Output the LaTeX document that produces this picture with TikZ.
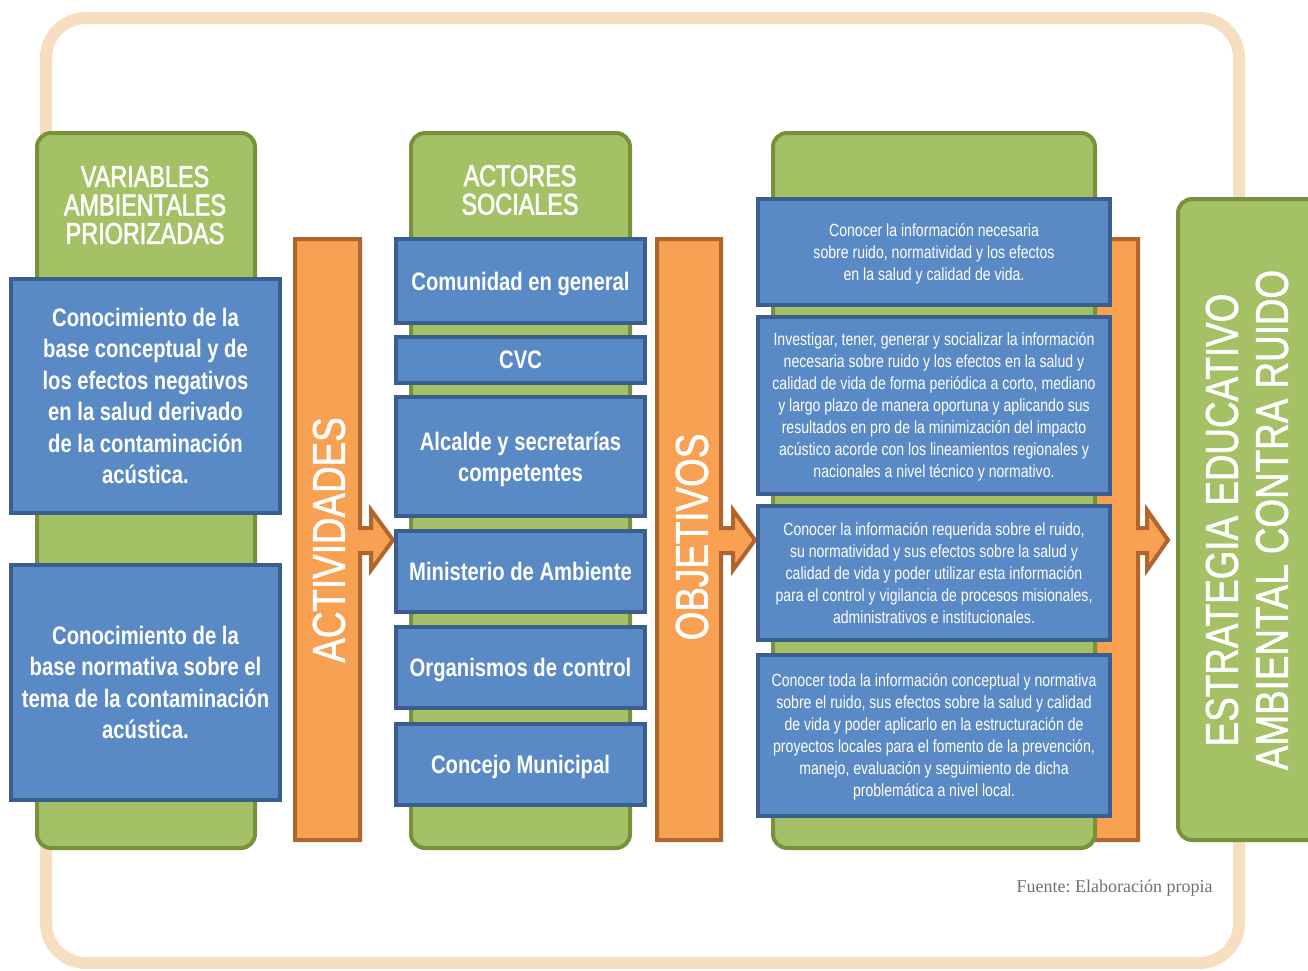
\documentclass[tikz,border=0pt]{standalone}
\usepackage{fontspec}
\setmainfont{Liberation Sans}[FakeStretch=0.8]
\newfontfamily\headfont{Liberation Sans}[FakeStretch=0.78, FakeBold=2]
\newfontfamily\vertfont{Liberation Sans}[FakeStretch=0.8, FakeBold=1.2]
\newfontfamily\srcfont{Liberation Serif}
\frenchspacing
\definecolor{frameC}{HTML}{F8DEC0}
\definecolor{gFill}{HTML}{A5C165}
\definecolor{gLine}{HTML}{76923C}
\definecolor{bFill}{HTML}{5A8AC6}
\definecolor{bLine}{HTML}{3A5F8F}
\definecolor{oFill}{HTML}{F9A152}
\definecolor{oLine}{HTML}{B0652F}
\definecolor{srcC}{HTML}{707070}
\tikzset{
  greencol/.style={draw=gLine, fill=gFill, line width=4pt, rounded corners=14pt},
  bluebox/.style={draw=bLine, fill=bFill, line width=4pt, inner sep=0pt, text=white, align=center},
  bigbold/.style={font=\fontsize{25.3}{31.5}\selectfont\bfseries},
  smalltxt/.style={font=\fontsize{17.6}{22}\selectfont},
  headtxt/.style={text=white, align=center, font=\headfont\fontsize{30}{28.5}\selectfont},
  orangebar/.style={draw=oLine, fill=oFill, line width=4pt},
  vertlabel/.style={text=white, rotate=90, font=\vertfont\fontsize{46}{46}\selectfont},
}
\begin{document}
\begin{tikzpicture}[x=1pt,y=-1pt]
\useasboundingbox (0,0) rectangle (1308,970);
% outer frame
\draw[frameC, line width=12pt, rounded corners=40pt] (46,18) rectangle (1239,963);
\node[font=\srcfont\fontsize{18}{20}\selectfont, text=srcC, anchor=east] (src) at (1216,888) {Fuente: Elaboración propia};

% column 1
\draw[greencol] (37,133) rectangle (255,848);
\node[headtxt] (h1) at (145,205) {VARIABLES\\AMBIENTALES\\PRIORIZADAS};
\node[bluebox, bigbold, minimum width=269pt, minimum height=234pt] (v1) at (145.5,396) {Conocimiento de la\\base conceptual y de\\los efectos negativos\\en la salud derivado\\de la contaminación\\acústica.};
\node[bluebox, bigbold, minimum width=269pt, minimum height=235pt] (v2) at (145.5,682.5) {Conocimiento de la\\base normativa sobre el\\tema de la contaminación\\acústica.};

% ACTIVIDADES bar
\draw[orangebar] (295,239) -- (360,239) -- (360,528) -- (371,528) -- (371,510) -- (393,540) -- (371,570) -- (371,553) -- (360,553) -- (360,840) -- (295,840) -- cycle;
\node[vertlabel] (act) at (329,540) {ACTIVIDADES};

% column 2
\draw[greencol] (411,133) rectangle (630,848);
\node[headtxt] (h2) at (520,190) {ACTORES\\SOCIALES};
\begin{scope}[every node/.append style={text depth=0pt}]
\node[bluebox, bigbold, minimum width=249pt, minimum height=84pt] (a1) at (520.5,281) {Comunidad en general};
\node[bluebox, bigbold, minimum width=249pt, minimum height=46pt] (a2) at (520.5,360) {CVC};
\node[bluebox, bigbold, minimum width=249pt, minimum height=119pt] (a3) at (520.5,456.5) {Alcalde y secretarías\\competentes};
\node[bluebox, bigbold, minimum width=249pt, minimum height=81pt] (a4) at (520.5,571.5) {Ministerio de Ambiente};
\node[bluebox, bigbold, minimum width=249pt, minimum height=81pt] (a5) at (520.5,667.5) {Organismos de control};
\node[bluebox, bigbold, minimum width=249pt, minimum height=81pt] (a6) at (520.5,764.5) {Concejo Municipal};
\end{scope}

% OBJETIVOS bar
\draw[orangebar] (657,239) -- (721,239) -- (721,528) -- (733,528) -- (733,510) -- (755,540) -- (733,570) -- (733,553) -- (721,553) -- (721,840) -- (657,840) -- cycle;
\node[vertlabel] (obj) at (692,537) {OBJETIVOS};

% third orange bar (behind column 3)
\draw[orangebar] (1070,239) -- (1138,239) -- (1138,528) -- (1147,528) -- (1147,510) -- (1168,540) -- (1147,570) -- (1147,553) -- (1138,553) -- (1138,840) -- (1070,840) -- cycle;

% column 3
\draw[greencol] (773,133) rectangle (1095,848);
\begin{scope}[every node/.append style={text depth=0pt}]
\node[bluebox, smalltxt, minimum width=352pt, minimum height=106pt] (o1) at (934,252) {Conocer la información necesaria\\sobre ruido, normatividad y los efectos\\en la salud y calidad de vida.};
\node[bluebox, smalltxt, minimum width=352pt, minimum height=177pt] (o2) at (934,405.5) {Investigar, tener, generar y socializar la información\\necesaria sobre ruido y los efectos en la salud y\\calidad de vida de forma periódica a corto, mediano\\y largo plazo de manera oportuna y aplicando sus\\resultados en pro de la minimización del impacto\\acústico acorde con los lineamientos regionales y\\nacionales a nivel técnico y normativo.};
\node[bluebox, smalltxt, minimum width=352pt, minimum height=134pt] (o3) at (934,573) {Conocer la información requerida sobre el ruido,\\su normatividad y sus efectos sobre la salud y\\calidad de vida y poder utilizar esta información\\para el control y vigilancia de procesos misionales,\\administrativos e institucionales.};
\node[bluebox, smalltxt, minimum width=352pt, minimum height=161pt] (o4) at (934,735.5) {Conocer toda la información conceptual y normativa\\sobre el ruido, sus efectos sobre la salud y calidad\\de vida y poder aplicarlo en la estructuración de\\proyectos locales para el fomento de la prevención,\\manejo, evaluación y seguimiento de dicha\\problemática a nivel local.};
\end{scope}

% final green box
\draw[greencol] (1178,199) rectangle (1330,840);
\node[text=white, rotate=90, align=center, font=\vertfont\fontsize{46}{50}\selectfont] (est) at (1247,520) {ESTRATEGIA EDUCATIVO\\AMBIENTAL CONTRA RUIDO};
\end{tikzpicture}
\end{document}
